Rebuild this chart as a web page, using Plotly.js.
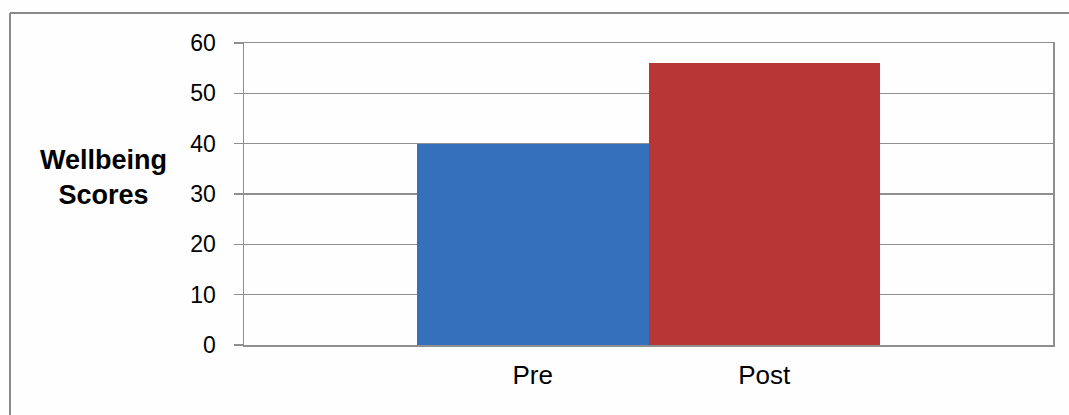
<!DOCTYPE html>
<html>
<head>
<meta charset="utf-8">
<script src="https://cdn.plot.ly/plotly-3.0.1.min.js"></script>
<style>html,body{margin:0;padding:0;background:#fefefe;}#chart{width:1069px;height:415px;}</style>
</head>
<body>
<div id="chart"></div>
<script>
const categories = ["Pre", "Post"];
const scores = [40, 56];
const barColors = ["#3571bb", "#b83636"];
const yTicks = [0, 10, 20, 30, 40, 50, 60];
const yTitle = "Wellbeing<br>Scores";

const grid = "#8f8f8f";
const trace = {
  type: "bar",
  x: categories,
  y: scores,
  marker: { color: barColors, line: { width: 0 } },
  hoverinfo: "x+y"
};

const layout = {
  width: 1069,
  height: 415,
  margin: { l: 244, r: 16, t: 43, b: 70 },
  paper_bgcolor: "#fefefe",
  plot_bgcolor: "#fefefe",
  bargap: 0,
  showlegend: false,
  font: { family: "Liberation Sans, Arial, sans-serif", color: "#000" },
  xaxis: {
    type: "category",
    range: [-1.247, 2.247],
    showgrid: false,
    showline: true,
    mirror: true,
    linecolor: grid,
    linewidth: 1.5,
    ticks: "",
    tickfont: { size: 26, color: "#000" },
    ticklabelstandoff: 6,
    fixedrange: true
  },
  yaxis: {
    range: [0, 60],
    tickvals: yTicks,
    showgrid: true,
    gridcolor: grid,
    gridwidth: 1.5,
    zeroline: false,
    showline: true,
    mirror: true,
    linecolor: grid,
    linewidth: 1.5,
    ticks: "outside",
    ticklen: 9,
    tickcolor: grid,
    tickwidth: 1.5,
    tickfont: { size: 23, color: "#000" },
    ticklabelstandoff: 13,
    fixedrange: true
  },
  annotations: [{
    text: "<b>" + yTitle + "</b>",
    xref: "paper", yref: "paper",
    x: -0.174, y: 0.553,
    xanchor: "center", yanchor: "middle",
    showarrow: false,
    align: "center",
    font: { size: 27, color: "#000", family: "Liberation Sans, Arial, sans-serif" }
  }],
  shapes: [
    { type: "line", xref: "paper", yref: "paper",
      x0: (10 - 244) / 809, x1: (1070 - 244) / 809,
      y0: (345 - 13) / 302, y1: (345 - 13) / 302,
      line: { color: "#8a8a8a", width: 2 } },
    { type: "line", xref: "paper", yref: "paper",
      x0: (10 - 244) / 809, x1: (10 - 244) / 809,
      y0: (345 - 13) / 302, y1: (345 - 416) / 302,
      line: { color: "#8a8a8a", width: 2 } }
  ]
};

Plotly.newPlot("chart", [trace], layout, { displayModeBar: false, staticPlot: true });
</script>
</body>
</html>
